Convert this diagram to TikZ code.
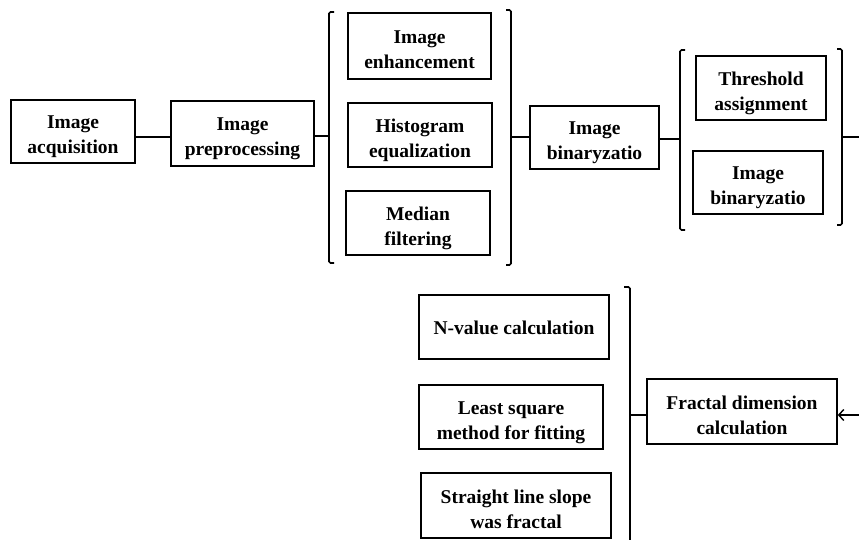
\documentclass[tikz,border=0pt]{standalone}
\usepackage{fontspec}
\setmainfont{Liberation Serif}
\usetikzlibrary{arrows.meta}
\newcommand\boxlbl[2][5pt]{\raisebox{-#1}[\height][\depth]{\begin{tabular}{@{}c@{}}#2\end{tabular}}}
\begin{document}
\begin{tikzpicture}[x=1pt,y=-1pt,
  box/.style={draw,line width=1.6pt,inner sep=0pt,
    font=\bfseries\fontsize{19.5}{25}\selectfont},
  brk/.style={line width=1.6pt,rounded corners=1.5pt},
  conn/.style={line width=1.6pt},
  thick conn/.style={line width=2.6pt}]
\useasboundingbox (0,0) rectangle (859,540);
% boxes
\node[box,minimum width=124pt,minimum height=63pt] (acq) at (73,131.5) {\boxlbl{Image\\acquisition}};
\node[box,minimum width=143pt,minimum height=65pt] (pre) at (242.5,133.5) {\boxlbl{Image\\preprocessing}};
\node[box,minimum width=143pt,minimum height=66pt] (enh) at (419.5,46) {\boxlbl{Image\\enhancement}};
\node[box,minimum width=144pt,minimum height=64pt] (hist) at (420,135) {\boxlbl{Histogram\\equalization}};
\node[box,minimum width=144pt,minimum height=64pt] (med) at (418,223) {\boxlbl{Median\\filtering}};
\node[box,minimum width=129pt,minimum height=63pt] (bin1) at (594.5,137.5) {\boxlbl{Image\\binaryzatio}};
\node[box,minimum width=130pt,minimum height=64pt] (thr) at (761,88) {\boxlbl{Threshold\\assignment}};
\node[box,minimum width=130pt,minimum height=63pt] (bin2) at (758,182.5) {\boxlbl{Image\\binaryzatio}};
\node[box,minimum width=190pt,minimum height=64pt] (nval) at (514,327) {\boxlbl[2pt]{N-value calculation}};
\node[box,minimum width=184pt,minimum height=64pt] (lsq) at (511,417) {\boxlbl{Least square\\method for fitting}};
\node[box,minimum width=190pt,minimum height=65pt] (slope) at (516,505.5) {\boxlbl{Straight line slope\\was fractal}};
\node[box,minimum width=190pt,minimum height=65pt] (frac) at (742,411.5) {\boxlbl{Fractal dimension\\calculation}};
% bracket coordinates
\coordinate (b1t) at (329,12); \coordinate (b1b) at (329,263);
\coordinate (b2t) at (511,10); \coordinate (b2b) at (511,265);
\coordinate (b3t) at (680,50); \coordinate (b3b) at (680,230);
\coordinate (b4t) at (842,49); \coordinate (b4b) at (842,225);
\coordinate (b5t) at (630,287); \coordinate (b5b) at (630,540);
\coordinate (j1) at (171,137);
\coordinate (j2) at (329,136);
\coordinate (j3) at (511,137);
\coordinate (j4) at (680,139);
\coordinate (j5) at (842,137);
\coordinate (e5) at (859,137);
\coordinate (j6) at (630,415);
\coordinate (e6) at (859,415);
% brackets
\draw[brk] ([xshift=5pt]b1t) -- (b1t) -- (b1b) -- ([xshift=5pt]b1b);
\draw[brk] ([xshift=-5pt]b2t) -- (b2t) -- (b2b) -- ([xshift=-5pt]b2b);
\draw[brk] ([xshift=5pt]b3t) -- (b3t) -- (b3b) -- ([xshift=5pt]b3b);
\draw[brk] ([xshift=-5pt]b4t) -- (b4t) -- (b4b) -- ([xshift=-5pt]b4b);
\draw[brk] ([xshift=-6pt]b5t) -- (b5t) -- (b5b);
% connectors
\draw[conn] (acq.east |- j1) -- (j1);
\draw[conn] (pre.east |- j2) -- (j2);
\draw[thick conn] (j3) -- (bin1.west |- j3);
\draw[conn] (bin1.east |- j4) -- (j4);
\draw[conn] (j5) -- (e5);
\draw[conn] (j6) -- (frac.west |- j6);
\draw[conn,-{Straight Barb[length=5pt,width=11pt,line width=1.4pt]}] (e6) -- (frac.east |- e6);
\end{tikzpicture}
\end{document}
